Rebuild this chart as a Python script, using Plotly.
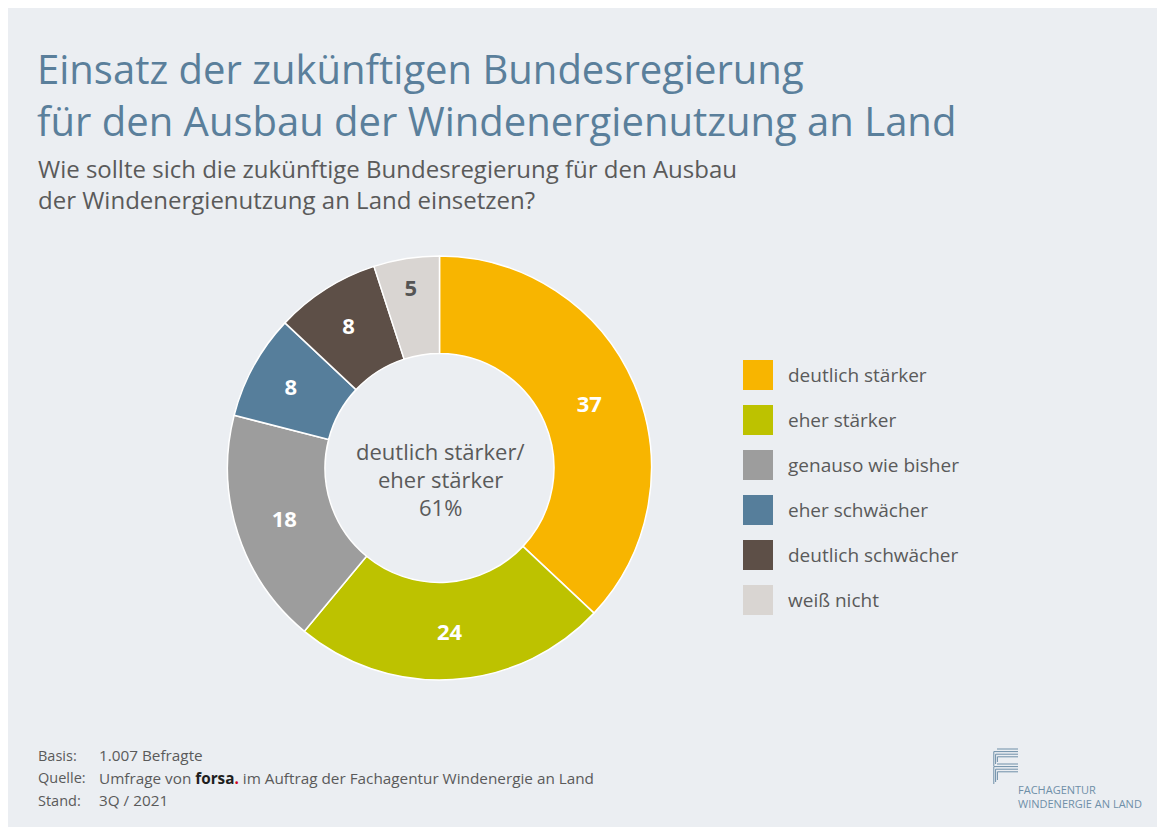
import plotly.graph_objects as go

W, H = 1165, 833
OFF = 8  # page body margin in the browser

# ---- data ----
categories = ["deutlich stärker", "eher stärker", "genauso wie bisher",
              "eher schwächer", "deutlich schwächer", "weiß nicht"]
values = [37, 24, 18, 8, 8, 5]
colors = ["#F8B500", "#BDC200", "#9D9D9D", "#567E9B", "#5D4F47", "#D9D5D2"]
label_colors = ["#FFFFFF", "#FFFFFF", "#FFFFFF", "#FFFFFF", "#FFFFFF", "#555555"]

title_lines = ["Einsatz der zukünftigen Bundesregierung",
               "für den Ausbau der Windenergienutzung an Land"]
subtitle_lines = ["Wie sollte sich die zukünftige Bundesregierung für den Ausbau",
                  "der Windenergienutzung an Land einsetzen?"]
center_lines = ["deutlich stärker/", "eher stärker", "61%"]
footer_keys = ["Basis:", "Quelle:", "Stand:"]
footer_vals = ["1.007 Befragte",
               "Umfrage von <b><span style='color:#1E1E1E'>forsa</span></b>"
               "<b><span style='color:#D0021B'>.</span></b> im Auftrag der Fachagentur Windenergie an Land",
               "3Q / 2021"]
logo_lines = ["FACHAGENTUR", "WINDENERGIE AN LAND"]

FONT = "Open Sans"
TITLE_C = "#5A7F9B"
TEXT_C = "#5A5A5A"


def fx(x):
    return (x - OFF) / W


def fy(y):
    return 1 - (y - OFF) / H


fig = go.Figure()

fig.add_trace(go.Pie(
    labels=categories, values=values, sort=False, direction="clockwise", rotation=0,
    hole=0.54,
    marker=dict(colors=colors, line=dict(color="#FFFFFF", width=1.5)),
    texttemplate="<b>%{value}</b>", textposition="inside",
    insidetextorientation="horizontal",
    textfont=dict(family=FONT, size=22, color=label_colors),
    domain=dict(x=[fx(227.5), fx(651.5)], y=[fy(680), fy(256)]),
    showlegend=False, hoverinfo="label+value",
))

shapes = [dict(type="rect", xref="paper", yref="paper",
               x0=fx(7), x1=fx(1159), y0=fy(827), y1=fy(8),
               fillcolor="#EBEEF2", line=dict(width=0), layer="below")]
annotations = []

# title (one text block, two lines)
annotations.append(dict(text="<br>".join(title_lines), x=fx(35), y=fy(95),
                        xref="paper", yref="paper", align="left",
                        xanchor="left", yanchor="middle", showarrow=False,
                        font=dict(family=FONT, size=40, color=TITLE_C)))
# subtitle
annotations.append(dict(text="<br>".join(subtitle_lines), x=fx(36), y=fy(184),
                        xref="paper", yref="paper", align="left",
                        xanchor="left", yanchor="middle", showarrow=False,
                        font=dict(family=FONT, size=24, color=TEXT_C)))

# center text
for i, t in enumerate(center_lines):
    annotations.append(dict(text=t, x=fx(440), y=fy(451 + 28 * i), xref="paper", yref="paper",
                            xanchor="center", yanchor="middle", showarrow=False,
                            font=dict(family=FONT, size=22, color=TEXT_C)))

# legend
for i, (c, col) in enumerate(zip(categories, colors)):
    yc = 375 + 45 * i
    shapes.append(dict(type="rect", xref="paper", yref="paper",
                       x0=fx(743), x1=fx(773), y0=fy(yc + 15), y1=fy(yc - 15),
                       fillcolor=col, line=dict(width=0)))
    annotations.append(dict(text=c, x=fx(786), y=fy(yc), xref="paper", yref="paper",
                            xanchor="left", yanchor="middle", showarrow=False,
                            font=dict(family=FONT, size=19, color=TEXT_C)))

# footer
for i, (k, v) in enumerate(zip(footer_keys, footer_vals)):
    yc = 755 + 22.5 * i
    annotations.append(dict(text=k, x=fx(36), y=fy(yc), xref="paper", yref="paper",
                            xanchor="left", yanchor="middle", showarrow=False,
                            font=dict(family=FONT, size=14.5, color=TEXT_C)))
    annotations.append(dict(text=v, x=fx(97), y=fy(yc), xref="paper", yref="paper",
                            xanchor="left", yanchor="middle", showarrow=False,
                            font=dict(family=FONT, size=15.3, color=TEXT_C)))

# logo
LOGO_C = "#6F8FA8"
for g, (ytop, ybot) in enumerate([(749, 768), (764, 786)]):
    for k in range(4):
        y = ytop + 2.6 * k
        x = 992 + 1.8 * k if k > 0 else 997
        path = f"M {fx(x)},{fy(ybot - 2*k if k > 0 else y)} L {fx(x)},{fy(y)} L {fx(1018)},{fy(y)}"
        shapes.append(dict(type="path", xref="paper", yref="paper", path=path,
                           line=dict(color=LOGO_C, width=1)))
for i, t in enumerate(logo_lines):
    annotations.append(dict(text=t, x=fx(1016), y=fy(789 + 14 * i), xref="paper", yref="paper",
                            xanchor="left", yanchor="middle", showarrow=False,
                            font=dict(family=FONT, size=11, color=LOGO_C)))

fig.update_layout(
    width=W, height=H, margin=dict(l=0, r=0, t=0, b=0),
    paper_bgcolor="#FFFFFF", plot_bgcolor="#FFFFFF",
    shapes=shapes, annotations=annotations, showlegend=False,
)

fig.write_html("out.html")
